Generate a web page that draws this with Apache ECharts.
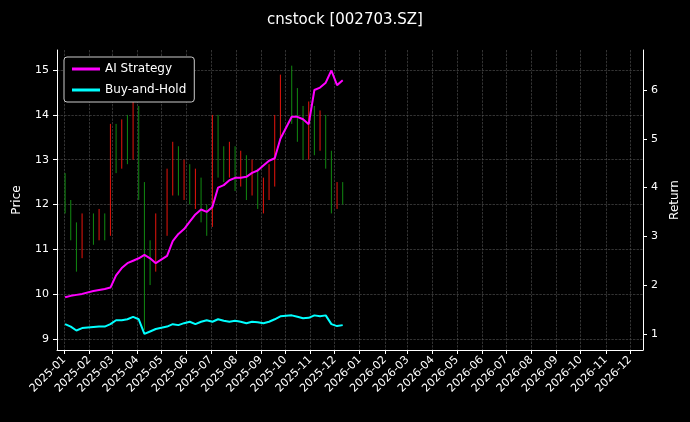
<!DOCTYPE html>
<html><head><meta charset="utf-8">
<script src="https://cdn.jsdelivr.net/npm/echarts@6/dist/echarts.min.js"></script>
<style>html,body{margin:0;background:#000}#chart{width:690px;height:422px}</style>
</head><body><div id="chart"></div>
<script>
// weekly samples
const weeks = ['2025-01-02','2025-01-09','2025-01-16','2025-01-23','2025-02-06','2025-02-13','2025-02-20','2025-02-27',
  '2025-03-06','2025-03-13','2025-03-20','2025-03-27','2025-04-03','2025-04-10','2025-04-17','2025-04-24',
  '2025-05-08','2025-05-15','2025-05-22','2025-05-29','2025-06-05','2025-06-12','2025-06-19','2025-06-26',
  '2025-07-03','2025-07-10','2025-07-17','2025-07-24','2025-07-31','2025-08-07','2025-08-14','2025-08-21',
  '2025-08-28','2025-09-04','2025-09-11','2025-09-18','2025-09-25','2025-10-09','2025-10-16','2025-10-23',
  '2025-10-30','2025-11-06','2025-11-13','2025-11-20','2025-11-27','2025-12-04','2025-12-11'];
// [open, close, low, high]
const ohlc = [
  [12.4,12.0,11.8,12.7],[12.0,11.5,11.2,12.1],[11.5,11.0,10.5,11.6],[11.0,11.6,10.8,11.8],
  [11.6,11.3,11.1,11.8],[11.3,11.7,11.2,11.9],[11.7,11.4,11.2,11.8],[11.4,13.4,11.3,13.8],
  [13.4,13.0,12.7,13.8],[13.0,13.6,12.8,13.9],[13.6,13.2,12.9,14.0],[13.2,14.0,13.0,14.5],
  [14.0,12.4,12.1,14.2],[12.4,10.8,9.2,12.5],[10.8,10.6,10.2,11.2],[10.6,11.5,10.5,11.8],
  [11.5,12.4,11.3,12.8],[12.4,13.0,12.2,13.4],[13.0,12.4,12.2,13.3],[12.4,12.7,12.1,13.0],
  [12.7,12.2,12.0,12.9],[12.2,12.5,11.9,12.8],[12.5,11.8,11.6,12.6],[11.8,11.6,11.3,12.0],
  [11.6,13.9,11.5,14.0],[13.9,13.0,12.6,14.0],[13.0,12.8,12.5,13.3],[12.8,13.1,12.6,13.4],
  [13.1,12.6,12.3,13.3],[12.6,12.9,12.4,13.2],[12.9,12.4,12.1,13.1],[12.4,12.7,12.2,13.0],
  [12.7,12.1,11.9,12.8],[12.1,12.3,11.8,12.6],[12.3,12.6,12.1,12.9],[12.6,13.8,12.4,14.0],
  [13.8,14.5,13.5,14.9],[14.5,14.1,13.8,15.1],[14.1,13.8,13.4,14.6],[13.8,13.2,13.0,14.2],
  [13.2,13.9,13.0,14.3],[13.9,13.4,13.1,14.2],[13.4,13.8,13.2,14.1],[13.8,13.0,12.8,14.0],
  [13.0,12.1,11.8,13.2],[12.1,12.3,11.9,12.5],[12.3,12.2,12.0,12.5]];
const aiReturn = [1.75,1.78,1.8,1.82,1.88,1.9,1.92,1.95,2.2,2.35,2.45,2.5,2.55,2.62,2.55,2.45,
  2.6,2.9,3.05,3.15,3.3,3.45,3.55,3.5,3.6,4.0,4.05,4.15,4.2,4.2,4.22,4.3,
  4.35,4.45,4.55,4.6,5.0,5.45,5.45,5.4,5.3,6.0,6.05,6.15,6.4,6.1,6.2];
const bhReturn = [1.2,1.15,1.07,1.12,1.14,1.15,1.15,1.2,1.28,1.28,1.3,1.35,1.3,1.0,1.05,1.1,
  1.15,1.2,1.18,1.22,1.25,1.2,1.25,1.28,1.25,1.3,1.27,1.25,1.27,1.25,1.22,1.25,
  1.24,1.22,1.25,1.3,1.36,1.38,1.35,1.32,1.33,1.38,1.36,1.38,1.2,1.16,1.18];
const priceTicks = [9,10,11,12,13,14,15];
const returnTicks = [1,2,3,4,5,6];

// daily categories
const days = [];
for (let d = new Date(Date.UTC(2024,11,23)); d <= new Date(Date.UTC(2026,11,17)); d.setUTCDate(d.getUTCDate()+1))
  days.push(d.toISOString().slice(0,10));
const idx = {}; weeks.forEach((w,i)=>idx[w]=i);
const candle = days.map(d => d in idx ? ohlc[idx[d]] : '-');
const toLine = arr => days.map(d => d in idx ? arr[idx[d]] : null);
const isMonth = (i) => days[i].endsWith('-01');

const chart = echarts.init(document.getElementById('chart'));
const grid = {lineStyle:{color:'#555',type:'dashed',width:0.6}};
const font = {color:'#fff',fontSize:11,fontFamily:'DejaVu Sans'};
chart.setOption({
  backgroundColor:'#000',
  animation:false,
  title:{text:'cnstock [002703.SZ]',left:'center',top:8,textStyle:{color:'#fff',fontSize:15,fontWeight:'normal',fontFamily:'DejaVu Sans'}},
  legend:{left:64,top:57,orient:'vertical',icon:'rect',itemWidth:28,itemHeight:3,itemGap:9,
    backgroundColor:'#000',borderColor:'#ccc',borderWidth:1,borderRadius:3,padding:[6,8],
    textStyle:{color:'#fff',fontSize:12,fontFamily:'DejaVu Sans'},data:['AI Strategy','Buy-and-Hold']},
  grid:{left:57,right:47,top:50,bottom:72},
  xAxis:{type:'category',data:days,boundaryGap:false,
    axisLine:{lineStyle:{color:'#fff'}},
    axisTick:{interval:isMonth,lineStyle:{color:'#fff'},length:4},
    axisLabel:{interval:isMonth,rotate:45,...font,formatter:v=>v.slice(0,7)},
    splitLine:{show:true,interval:isMonth,...grid}},
  yAxis:[
    {type:'value',min:8.75,max:15.45,name:'Price',nameLocation:'middle',nameGap:34,nameRotate:90,
     nameTextStyle:{color:'#fff',fontSize:12,fontFamily:'DejaVu Sans'},
     axisLine:{show:true,lineStyle:{color:'#fff'}},
     axisTick:{show:true,customValues:priceTicks,length:4},
     axisLabel:{...font,customValues:priceTicks},
     splitLine:{show:true,...grid}},
    {type:'value',min:0.67,max:6.82,name:'Return',nameLocation:'middle',nameGap:26,nameRotate:90,
     nameTextStyle:{color:'#fff',fontSize:12,fontFamily:'DejaVu Sans'},
     axisLine:{show:true,lineStyle:{color:'#fff'}},
     axisTick:{show:true,customValues:returnTicks,length:4},
     axisLabel:{...font,customValues:returnTicks},
     splitLine:{show:false}}],
  series:[
    {type:'candlestick',data:candle,barWidth:4,
     itemStyle:{color:'#e8140c',color0:'#118a11',borderColor:'#e8140c',borderColor0:'#118a11',borderWidth:1}},
    {name:'AI Strategy',type:'line',yAxisIndex:1,data:toLine(aiReturn),connectNulls:true,showSymbol:false,
     lineStyle:{color:'#ff00ff',width:2},itemStyle:{color:'#ff00ff'}},
    {name:'Buy-and-Hold',type:'line',yAxisIndex:1,data:toLine(bhReturn),connectNulls:true,showSymbol:false,
     lineStyle:{color:'#00ffff',width:2},itemStyle:{color:'#00ffff'}}
  ]
});
</script></body></html>
